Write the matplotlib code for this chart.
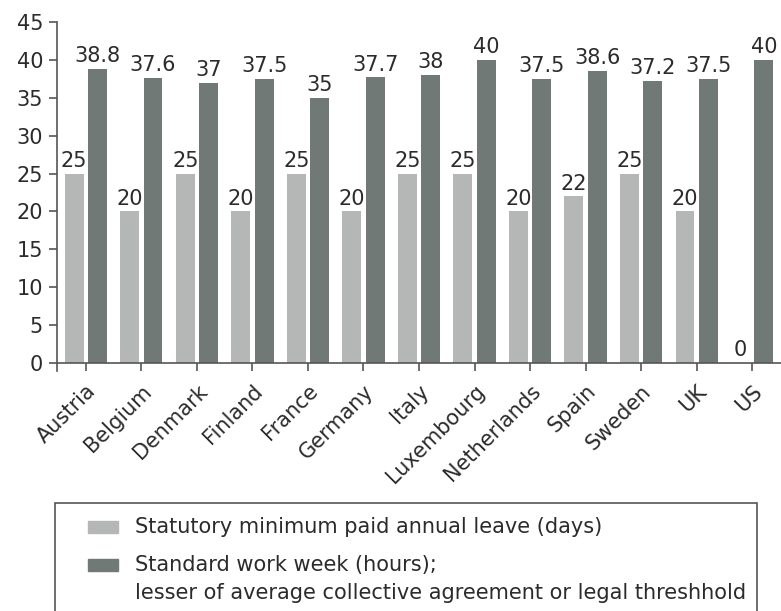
import matplotlib
matplotlib.use("Agg")
import matplotlib.pyplot as plt
from matplotlib.patches import Rectangle
import numpy as np

countries = ["Austria", "Belgium", "Denmark", "Finland", "France", "Germany", "Italy",
             "Luxembourg", "Netherlands", "Spain", "Sweden", "UK", "US"]
leave_days = [25, 20, 25, 20, 25, 20, 25, 25, 20, 22, 25, 20, 0]
work_week = [38.8, 37.6, 37, 37.5, 35, 37.7, 38, 40, 37.5, 38.6, 37.2, 37.5, 40]

leave_label = "Statutory minimum paid annual leave (days)"
week_label = "Standard work week (hours);"
week_label2 = "lesser of average collective agreement or legal threshhold"

light = "#b5b7b6"
dark = "#707976"
txt = "#2b2b2b"
edge = "#555555"

W, H = 781, 611
fig = plt.figure(figsize=(W / 100, H / 100), dpi=100)
ax = fig.add_axes([57 / W, 1 - 371 / H, 1 - 57 / W, (371 - 22) / H])

# spine moved first, it resets the ticks
ax.spines["bottom"].set_position(("data", 0))
ax.spines["top"].set_visible(False)
ax.spines["right"].set_visible(False)
for s in ["left", "bottom"]:
    ax.spines[s].set_color(edge)
    ax.spines[s].set_linewidth(1.2)

x = np.arange(len(countries))
w = 0.34
b1 = ax.bar(x - 0.21, leave_days, w, color=light)
b2 = ax.bar(x + 0.21, work_week, w, color=dark)
ax.bar_label(b1, labels=[f"{v:g}" for v in leave_days], padding=2, fontsize=15, color=txt)
ax.bar_label(b2, labels=[f"{v:g}" for v in work_week], padding=2, fontsize=15, color=txt)

ax.set_xlim(-0.52, 12.52)
ax.set_ylim(-1.05, 45)
ax.set_yticks(range(0, 46, 5))
ax.set_xticks(x)
ax.set_xticklabels(countries, rotation=45, ha="right", rotation_mode="anchor")

ax.tick_params(axis="both", direction="out", length=6, width=1.2, color=edge,
               labelsize=15, labelcolor=txt)
ax.tick_params(axis="y", pad=4)
ax.tick_params(axis="x", pad=7)

# legend box drawn by hand, runs off the bottom of the picture
fig.patches.append(Rectangle((55 / W, -0.05), (757 - 55) / W, 0.05 + (611 - 503) / H,
                             transform=fig.transFigure, fill=False, edgecolor=edge, lw=1.2))
for yc, col in [(527, light), (565, dark)]:
    fig.patches.append(Rectangle((88 / W, 1 - (yc + 6) / H), 30 / W, 12 / H,
                                 transform=fig.transFigure, color=col))
fig.text(135 / W, 1 - 527 / H, leave_label, fontsize=15, color=txt, va="center")
fig.text(135 / W, 1 - 565 / H, week_label, fontsize=15, color=txt, va="center")
fig.text(135 / W, 1 - 593 / H, week_label2, fontsize=15, color=txt, va="center")

fig.savefig("out.png", dpi=100)
